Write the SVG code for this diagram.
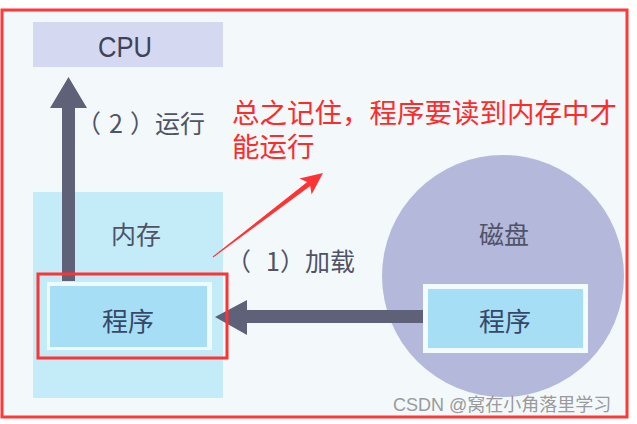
<svg xmlns="http://www.w3.org/2000/svg" width="637" height="424" viewBox="0 0 637 424">
<defs>
<style>
.lbl{font-family:"Noto Sans CJK SC","Noto Sans",sans-serif;font-size:25px;fill:#4f5366}
.prog{font-family:"Noto Sans CJK SC","Noto Sans",sans-serif;font-size:26px;fill:#364868;text-anchor:middle}
.note{font-family:"Noto Sans CJK SC",sans-serif;font-size:27.5px;fill:#ff2b2b}
.arrow{fill:#5e6178}
</style>
</defs>
<rect x="0" y="0" width="637" height="424" fill="#ffffff"/>
<rect x="2" y="10" width="625" height="407" fill="#f3f9fb"/>

<g id="cpu">
<rect x="33" y="22" width="190" height="45" fill="#d4d8f0"/>
<text x="98" y="57" font-family="Liberation Sans, sans-serif" font-size="29" fill="#3f4357" textLength="54" lengthAdjust="spacingAndGlyphs">CPU</text>
</g>

<g id="memory">
<rect x="33" y="192" width="190" height="206" fill="#c4ebf8"/>
<text x="136" y="244" class="lbl" text-anchor="middle">内存</text>
</g>

<g id="mem-program">
<rect x="47" y="282" width="165" height="68" fill="#eefafd"/>
<rect x="50" y="286" width="157" height="61" fill="#a6def5"/>
<text x="128" y="331" class="prog">程序</text>
</g>

<g id="disk">
<circle cx="503" cy="276" r="121" fill="#b4b9dc"/>
<text x="504" y="244" class="lbl" text-anchor="middle" fill="#585b6c">磁盘</text>
</g>

<g id="disk-program">
<rect x="423" y="284" width="165" height="69" fill="#f2fbfe"/>
<rect x="428" y="289" width="155" height="59" fill="#a6def5"/>
<text x="505" y="331" class="prog">程序</text>
</g>

<g id="connectors">
<polygon class="arrow" points="62,281 62,108 50,108 68.5,77 87,108 75,108 75,281"/>
<polygon class="arrow" points="423,310 247,310 247,300 215,317 247,335 247,323 423,323"/>
<text class="lbl"><tspan x="76" y="133">（</tspan><tspan x="109" y="133">2</tspan><tspan x="130" y="133">）运行</tspan></text>
<text class="lbl"><tspan x="226" y="271">（</tspan><tspan x="266" y="271">1</tspan><tspan x="280" y="271">）加载</tspan></text>
</g>

<g id="annotation">
<rect x="38" y="274" width="189" height="84" fill="none" stroke="#ff3333" stroke-width="3"/>
<polygon fill="#ff3333" points="212.7,256.6 307.2,182 299.4,178.4 323,173 311.6,194.4 310.2,186 213.3,257.4"/>
<text class="note"><tspan x="232" y="123">总之记住，程序要读到内存中才</tspan><tspan x="232" y="157">能运行</tspan></text>
</g>

<rect x="2" y="10" width="625" height="407" fill="none" stroke="#ff3838" stroke-width="3"/>
<text x="393" y="411" font-family="Liberation Sans, Noto Sans CJK SC, sans-serif" font-size="18" fill="#9a9a9a">CSDN @窝在小角落里学习</text>
</svg>
